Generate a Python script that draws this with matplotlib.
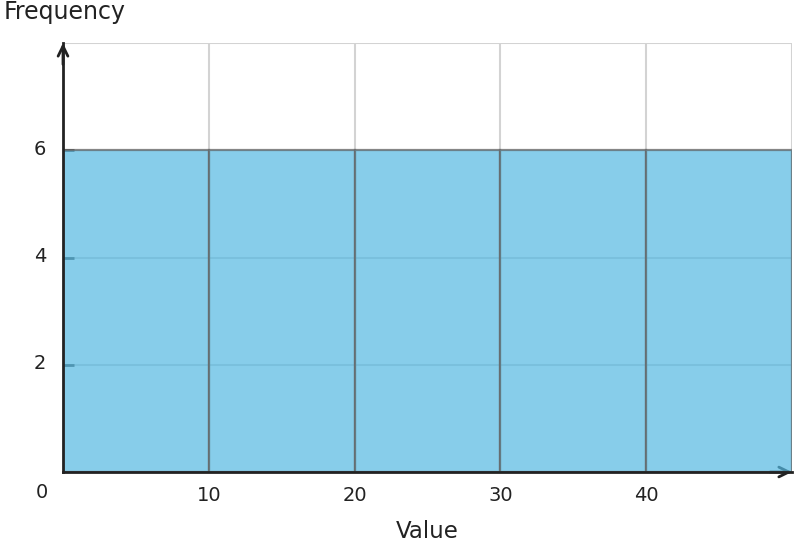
import matplotlib
matplotlib.use("Agg")
import matplotlib.pyplot as plt
import matplotlib.transforms as mtransforms

# ---- data ----
bin_edges = [0, 10, 20, 30, 40, 50]
counts = [6, 6, 6, 6, 6]
x_ticks = [10, 20, 30, 40]
y_ticks = [2, 4, 6]
x_label = "Value"
y_label = "Frequency"

fig = plt.figure(figsize=(7.96, 5.48), dpi=100)
ax = fig.add_axes([63/796, 76/548, 729/796, 429/548])
ax.set_xlim(0, 50)
ax.set_ylim(0, 8)
ax.set_axisbelow(True)

# grid lines (below bars)
for xv in x_ticks + [50]:
    ax.axvline(xv, color="#d3d3d3", lw=1.5, zorder=0.5)
for yv in y_ticks + [8]:
    ax.axhline(yv, color="#d3d3d3", lw=1.5, zorder=0.5)

widths = [bin_edges[i+1] - bin_edges[i] for i in range(len(counts))]
ax.bar(bin_edges[:-1], counts, width=widths, align="edge",
       color="#54b9e2", alpha=0.7, edgecolor="#666666", linewidth=1.6, zorder=1)

ax.set_xticks(x_ticks)
ax.set_xticklabels([str(v) for v in x_ticks])
ax.set_yticks(y_ticks)
ax.set_yticklabels([str(v) for v in y_ticks])
ax.tick_params(axis="x", length=0, pad=10, labelsize=14, labelcolor="#222222")
ax.tick_params(axis="y", direction="in", length=8, width=2, color="#444444",
               pad=12, labelsize=14, labelcolor="#222222")
up = mtransforms.ScaledTranslation(0, 3/100, fig.dpi_scale_trans)
for lbl in ax.get_yticklabels():
    lbl.set_transform(lbl.get_transform() + up)

for s in ["top", "right"]:
    ax.spines[s].set_visible(False)
for s in ["left", "bottom"]:
    ax.spines[s].set_color("#222222")
    ax.spines[s].set_linewidth(2)
    ax.spines[s].set_zorder(2.5)

# origin label
ax.annotate("0", xy=(0, 0), xycoords="data", xytext=(-21, -20),
            textcoords="offset pixels", ha="center", va="center",
            fontsize=14, color="#222222")

# arrow heads
ax.annotate("", xy=(0, 1), xytext=(0, 0.95), xycoords="axes fraction",
            arrowprops=dict(arrowstyle="->,head_length=0.45,head_width=0.22",
                            color="#222222", lw=2,
                            mutation_scale=16, shrinkA=0, shrinkB=0), zorder=0.8)
ax.annotate("", xy=(1, 0), xytext=(0.97, 0), xycoords="axes fraction",
            arrowprops=dict(arrowstyle="->,head_length=0.45,head_width=0.22",
                            color="#222222", lw=2,
                            mutation_scale=16, shrinkA=0, shrinkB=0), zorder=0.8)

ax.set_xlabel(x_label, fontsize=16.5, color="#222222", labelpad=11)
fig.text(4/796, 1 - 12/548, y_label, fontsize=17, color="#222222",
         ha="left", va="center")

fig.savefig("out.png", dpi=100)
